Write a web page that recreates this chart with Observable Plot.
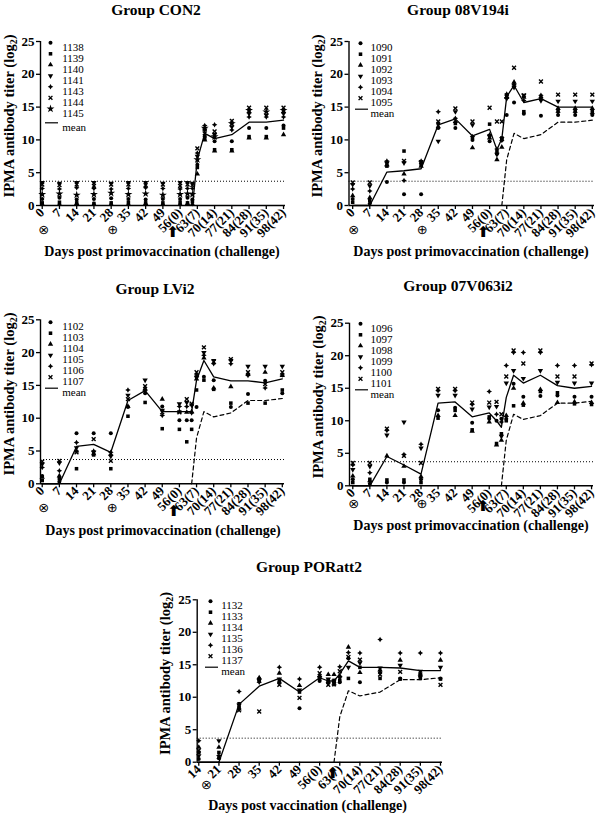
<!DOCTYPE html>
<html><head><meta charset="utf-8">
<script src="https://cdn.jsdelivr.net/npm/d3@7"></script>
<script src="https://cdn.jsdelivr.net/npm/@observablehq/plot@0.6"></script>
<style>
html,body{margin:0;padding:0;background:#fff;}
#page{position:relative;width:600px;height:819px;overflow:hidden;background:#fff;}
.panel{position:absolute;}
#overlay{position:absolute;left:0;top:0;pointer-events:none;}
</style></head><body><div id="page"></div>
<script>
// ---------- shared axes / reference data ----------
const daysA = [0,7,14,21,28,35,42,49,56,59,61,63,66,70,77,84,91,98];
const daysP = [14,21,28,35,42,49,56,59,61,63,66,70,77,84,91,98];
const ticksA = [0,7,14,21,28,35,42,49,56,63,70,77,84,91,98];
const tickLabelsA = ["0","7","14","21","28","35","42","49","56(0)","63(7)","70(14)","77(21)","84(28)","91(35)","98(42)"];
const ticksP = [14,21,28,35,42,49,56,63,70,77,84,91,98];
const tickLabelsP = ["14","21","28","35","42","49","56(0)","63(7)","70(14)","77(21)","84(28)","91(35)","98(42)"];
const yTicks = [0,5,10,15,20,25];
const detectionLimit = 3.7;
const conMeanDays = [61,63,66,70,77,84,91,98];
const conMean = [0,7.0,11.0,10.2,10.8,12.7,12.7,13.0];

// ---------- Group CON2 ----------
const con2Animals = ["1138","1139","1140","1141","1143","1144","1145"];
const con2_1138 = [1.0,1.2,0.9,1.0,1.1,1.0,0.9,1.0,1.0,1.2,0.9,6.2,10.5,9.8,9.8,11.8,11.8,12.2];
const con2_1139 = [0.4,0.5,0.4,0.3,0.4,0.5,0.4,0.4,0.5,0.4,0.6,5.8,10.2,8.5,8.5,10.5,10.5,11.8];
const con2_1140 = [0.2,0.2,0.3,0.2,0.2,0.2,0.3,0.2,0.2,0.3,0.2,4.8,10.0,8.3,8.3,10.3,10.3,10.8];
const con2_1141 = [3.5,3.4,3.5,3.5,3.4,3.5,3.5,3.4,3.5,3.5,3.4,7.5,11.5,10.8,12.0,14.0,13.8,14.0];
const con2_1143 = [2.6,2.5,2.7,2.6,2.5,2.6,2.7,2.6,2.5,2.6,2.6,8.0,12.2,12.3,11.5,13.5,13.5,13.5];
const con2_1144 = [3.2,3.1,3.2,3.0,3.2,3.2,3.1,3.2,3.0,3.2,3.1,8.7,11.0,11.3,12.9,14.9,14.9,14.9];
const con2_1145 = [1.7,1.8,1.6,1.7,1.9,1.7,1.8,1.6,1.7,1.8,1.7,7.0,11.8,10.5,12.5,14.5,14.3,14.5];

// ---------- Group 08V194i ----------
const g08Animals = ["1090","1091","1092","1093","1094","1095"];
const g08_1090 = [1.0,0.3,3.6,1.7,1.7,11.8,11.8,10.0,9.8,7.9,10.0,13.8,15.7,14.0,13.7,13.8,13.8,13.8];
const g08_1091 = [0.5,0.8,6.0,8.3,6.2,12.5,12.5,10.4,12.4,8.3,10.3,16.8,18.3,14.3,16.3,14.5,14.5,14.3];
const g08_1092 = [1.5,1.2,6.2,4.8,6.0,12.0,12.8,8.8,10.3,7.0,8.9,16.5,18.8,16.5,16.6,14.8,14.8,14.8];
const g08_1093 = [3.2,3.0,6.5,6.5,6.5,9.8,14.3,12.3,10.5,7.8,10.2,16.3,18.0,16.8,16.0,15.9,15.9,15.9];
const g08_1094 = [2.5,2.2,6.8,3.8,6.8,14.3,13.3,10.5,10.8,8.6,9.9,17.0,18.5,16.0,16.8,14.2,14.2,14.0];
const g08_1095 = [3.5,3.5,6.3,6.8,6.6,12.8,14.8,12.8,14.9,12.8,12.8,16.6,21.0,16.8,18.9,16.9,16.9,16.9];
const g08Mean = [0,0,5.1,5.3,5.6,12.3,13.2,10.6,11.6,8.5,10.2,16.6,18.3,15.7,16.3,15.0,15.0,15.0];

// ---------- Group LVi2 ----------
const lvAnimals = ["1102","1103","1104","1105","1106","1107"];
const lv_1102 = [1.2,0.3,7.7,7.7,7.7,11.7,13.8,11.8,9.7,9.7,9.7,11.7,16.3,15.8,11.7,13.7,15.7,13.8];
const lv_1103 = [0.5,0.8,2.3,4.4,2.3,10.3,12.4,8.4,8.3,6.4,8.3,14.3,15.8,14.4,12.3,12.3,12.3,14.3];
const lv_1104 = [1.0,1.2,5.0,4.6,4.5,11.8,14.5,12.9,11.0,10.9,11.0,16.0,19.2,14.6,14.8,16.8,17.0,16.5];
const lv_1105 = [3.0,3.2,5.5,4.8,4.2,13.5,15.8,11.2,12.2,12.4,12.0,16.2,20.0,18.8,18.8,17.9,17.9,17.9];
const lv_1106 = [2.5,2.0,6.3,5.0,4.8,14.3,14.2,10.4,11.8,11.8,10.8,16.6,19.6,18.3,18.3,16.5,14.6,16.6];
const lv_1107 = [3.4,3.5,4.8,6.8,3.5,12.9,14.9,10.9,10.9,12.9,12.2,17.0,20.8,18.6,19.0,17.0,15.2,17.0];
const lvMean = [0,0,5.7,6.0,4.8,12.7,14.2,11.0,11.0,11.0,11.0,15.8,18.8,16.3,15.7,15.7,15.4,16.0];

// ---------- Group 07V063i2 ----------
const g07Animals = ["1096","1097","1098","1099","1100","1101"];
const g07_1096 = [1.0,0.3,0.5,0.5,1.0,11.6,12.0,9.7,10.3,10.0,10.3,10.3,15.7,13.7,13.8,13.9,13.7,13.7];
const g07_1097 = [0.5,1.0,0.9,0.9,0.5,10.4,11.6,8.6,10.6,6.5,8.0,10.0,12.3,12.4,14.5,14.3,12.6,12.5];
const g07_1098 = [1.5,0.8,4.6,3.0,1.4,10.8,10.8,8.4,9.8,6.3,7.0,10.8,15.0,12.7,14.8,12.8,12.9,12.8];
const g07_1099 = [2.5,3.0,7.8,9.8,5.8,13.9,13.9,11.8,12.1,12.2,7.6,15.8,17.7,16.5,17.7,15.9,15.8,15.8];
const g07_1100 = [3.2,2.0,8.5,4.8,6.4,14.6,14.6,12.5,14.5,11.0,9.8,18.5,20.5,20.5,20.5,18.5,18.5,18.6];
const g07_1101 = [3.5,3.5,8.8,4.6,3.5,14.9,14.9,12.8,12.8,12.9,11.0,16.8,20.8,18.8,20.8,16.8,16.8,18.8];
const g07Mean = [0,0,4.5,3.2,1.8,12.7,12.9,10.6,11.2,10.0,9.0,13.6,17.0,15.8,17.0,15.4,15.0,15.3];

// ---------- Group PORatt2 ----------
const porAnimals = ["1132","1133","1134","1135","1136","1137"];
const por_1132 = [0.5,0.6,8.5,12.5,12.3,8.3,12.5,12.3,12.3,12.3,16.0,12.3,13.8,12.9,13.2,12.9];
const por_1133 = [1.5,1.5,9.0,12.8,12.5,10.8,12.8,12.6,12.6,12.6,12.9,14.6,12.9,12.8,12.9,12.8];
const por_1134 = [2.3,2.3,8.2,13.0,13.7,11.8,13.3,13.5,13.5,13.3,17.7,13.8,14.2,15.7,13.6,15.7];
const por_1135 = [1.0,3.3,8.8,12.6,12.8,11.1,13.0,12.8,12.5,13.0,14.6,15.3,14.5,14.9,14.0,14.6];
const por_1136 = [3.3,1.0,10.9,12.3,14.6,12.8,14.6,12.3,12.0,14.7,16.9,16.8,18.9,16.8,16.8,16.8];
const por_1137 = [1.8,0.8,8.0,7.8,11.9,9.9,13.7,11.9,12.0,14.0,16.2,15.8,13.5,13.9,13.5,11.9];
const porMean = [0,0,8.9,11.7,12.9,10.8,13.0,12.5,12.5,13.6,15.6,14.6,14.6,14.5,14.1,14.1];

// ---------- symbols ----------
const S3 = Math.sqrt(3);
const triDown = {draw(ctx, size){ const y = -Math.sqrt(size/(S3*3)); ctx.moveTo(0,-y*2); ctx.lineTo(-S3*y, y); ctx.lineTo(S3*y, y); ctx.closePath(); }};
const star4 = {draw(ctx, size){ const r = Math.sqrt(size)*0.6, i = r*0.36; ctx.moveTo(0,-r); ctx.lineTo(i,-i); ctx.lineTo(r,0); ctx.lineTo(i,i); ctx.lineTo(0,r); ctx.lineTo(-i,i); ctx.lineTo(-r,0); ctx.lineTo(-i,-i); ctx.closePath(); }};
const hline = {draw(ctx){ ctx.moveTo(-6.5,0); ctx.lineTo(6.5,0); }};
const symDefs = [
  {symbol:"circle", r:2.0, fill:"#000"},
  {symbol:"square", r:2.0, fill:"#000"},
  {symbol:"triangle", r:2.0, fill:"#000"},
  {symbol:triDown, r:2.0, fill:"#000"},
  {symbol:star4, r:2.6, fill:"#000"},
  {symbol:"times", r:1.9, fill:"none", stroke:"#000", strokeWidth:1.4},
  {symbol:"star", r:2.5, fill:"#000"}
];

const panels = [
  {left:0, top:0, w:300, h:270, mL:40, mR:15, mT:41, mB:65, xDomain:[-0.7,98.8],
   days:daysA, ticks:ticksA, tickLabels:tickLabelsA, names:con2Animals,
   series:[con2_1138,con2_1139,con2_1140,con2_1141,con2_1143,con2_1144,con2_1145],
   meanDays:conMeanDays, mean:conMean, dashed:false,
   leg:{mx:10, tx:21.7, dy:1.3, gap:3},
   circ:[{day:0,s:"⊗"},{day:28,s:"⊕"}], circDx:1.5, circDy:28, arrow:[{day:53,s:"⬆"}], arrowDy:31},
  {left:300, top:0, w:300, h:270, mL:48.5, mR:6, mT:41, mB:65, xDomain:[-1.5,98.9],
   days:daysA, ticks:ticksA, tickLabels:tickLabelsA, names:g08Animals,
   series:[g08_1090,g08_1091,g08_1092,g08_1093,g08_1094,g08_1095],
   meanDays:daysA, mean:g08Mean, dashed:true,
   leg:{mx:11.5, tx:21.5, dy:1.7, gap:0},
   circ:[{day:0,s:"⊗"},{day:28,s:"⊕"}], circDx:1, circDy:28, arrow:[{day:53.4,s:"⬆"}], arrowDy:31},
  {left:0, top:270, w:300, h:270, mL:40, mR:16, mT:49.3, mB:56.7, xDomain:[-0.7,98.9],
   days:daysA, ticks:ticksA, tickLabels:tickLabelsA, names:lvAnimals,
   series:[lv_1102,lv_1103,lv_1104,lv_1105,lv_1106,lv_1107],
   meanDays:daysA, mean:lvMean, dashed:true,
   leg:{mx:10, tx:21.7, dy:2.4, gap:0},
   circ:[{day:0,s:"⊗"},{day:28,s:"⊕"}], circDx:1.5, circDy:28.4, arrow:[{day:53.7,s:"⬆"}], arrowDy:31.7},
  {left:300, top:270, w:300, h:270, mL:49, mR:7, mT:52.7, mB:54.7, xDomain:[-1.35,98.8],
   days:daysA, ticks:ticksA, tickLabels:tickLabelsA, names:g07Animals,
   series:[g07_1096,g07_1097,g07_1098,g07_1099,g07_1100,g07_1101],
   meanDays:daysA, mean:g07Mean, dashed:true,
   leg:{mx:11, tx:21, dy:0.6, gap:0},
   circ:[{day:0,s:"⊗"},{day:28,s:"⊕"}], circDx:1, circDy:22, arrow:[{day:53.5,s:"⬆"}], arrowDy:25.4},
  {left:150, top:540, w:300, h:279, mL:46.7, mR:8, mT:59.3, mB:57.3, xDomain:[13.45,98.7],
   days:daysP, ticks:ticksP, tickLabels:tickLabelsP, names:porAnimals,
   series:[por_1132,por_1133,por_1134,por_1135,por_1136,por_1137],
   meanDays:daysP, mean:porMean, dashed:true,
   leg:{mx:13.3, tx:24, dy:1.4, gap:0},
   circ:[{day:14,s:"⊗"}], circDx:7.7, circDy:26.6, arrow:[{day:60.6,s:"⬆"}], arrowDy:15.3}
];

function drawPanel(p){
  const marks = [];
  marks.push(Plot.ruleY([detectionLimit], {stroke:"#000", strokeWidth:1, strokeDasharray:"1,2"}));
  if (p.dashed) marks.push(Plot.line(conMeanDays.map((d,i)=>({day:d, v:conMean[i]})), {x:"day", y:"v", stroke:"#000", strokeWidth:1.2, strokeDasharray:"4,3"}));
  marks.push(Plot.line(p.meanDays.map((d,i)=>({day:d, v:p.mean[i]})), {x:"day", y:"v", stroke:"#000", strokeWidth:1.3}));
  p.series.forEach((vals,k)=>{
    const data = p.days.map((d,i)=>({day:d, v:vals[i]})).filter(o=>o.v!=null);
    marks.push(Plot.dot(data, {x:"day", y:"v", ...symDefs[k]}));
  });
  marks.push(Plot.ruleY([0], {stroke:"#000", strokeWidth:1.4}));
  marks.push(Plot.ruleX([p.xDomain[0]], {y1:0, y2:25, stroke:"#000", strokeWidth:1.4}));
  marks.push(Plot.axisY({ticks:yTicks, tickSize:4, tickPadding:2, fontSize:13, fontWeight:"bold", strokeWidth:1.3, label:null}));
  const lm = new Map(p.ticks.map((t,i)=>[t,p.tickLabels[i]]));
  marks.push(Plot.axisX({ticks:p.ticks, tickFormat:d=>lm.get(d), tickRotate:-45, tickSize:4, tickPadding:1, fontSize:13, fontWeight:"bold", strokeWidth:1.3, label:null}));
  // legend
  p.names.forEach((name,k)=>{
    const dy = p.leg.dy + k*11;
    marks.push(Plot.dot([name], {frameAnchor:"top-left", dx:p.leg.mx, dy, ...symDefs[k]}));
    marks.push(Plot.text([name], {frameAnchor:"top-left", dx:p.leg.tx, dy, text:d=>d, textAnchor:"start", fontSize:11, fontWeight:"normal"}));
  });
  const mdy = p.leg.dy + p.names.length*11 + p.leg.gap;
  marks.push(Plot.dot(["mean"], {frameAnchor:"top-left", dx:p.leg.mx+1, dy:mdy, symbol:hline, r:3, stroke:"#000", strokeWidth:1.2, fill:"none"}));
  marks.push(Plot.text(["mean"], {frameAnchor:"top-left", dx:p.leg.tx, dy:mdy, text:d=>d, textAnchor:"start", fontSize:11, fontWeight:"normal"}));
  // vaccination / challenge markers
  marks.push(Plot.text(p.circ, {x:"day", text:"s", frameAnchor:"bottom", dx:p.circDx, dy:p.circDy, fontSize:13, fontWeight:"normal", fontFamily:"DejaVu Sans"}));
  marks.push(Plot.text(p.arrow, {x:"day", text:"s", frameAnchor:"bottom", dy:p.arrowDy, fontSize:15, fontWeight:"bold", fontFamily:"DejaVu Sans"}));
  return Plot.plot({
    width:p.w, height:p.h, marginLeft:p.mL, marginRight:p.mR, marginTop:p.mT, marginBottom:p.mB,
    x:{domain:p.xDomain}, y:{domain:[0,25]},
    style:{fontFamily:"'Liberation Serif', 'Times New Roman', serif", fontSize:"12px", color:"#000", background:"transparent", overflow:"visible"},
    marks
  });
}

const page = document.getElementById("page");
panels.forEach(p=>{
  const div = document.createElement("div");
  div.className = "panel";
  div.style.left = p.left+"px"; div.style.top = p.top+"px";
  div.appendChild(drawPanel(p));
  page.appendChild(div);
});

// ---------- titles & axis labels ----------
const titles = [
  {t:"Group CON2", x:156, y:15},
  {t:"Group 08V194i", x:458, y:15},
  {t:"Group LVi2", x:155, y:294},
  {t:"Group 07V063i2", x:458, y:291},
  {t:"Group PORatt2", x:309, y:572}
];
const yLabels = [{x:13.5, y:116},{x:322, y:116},{x:13.5, y:394},{x:322.5, y:397},{x:170, y:673.5}];
const xLabels = [
  {t:"Days post primovaccination (challenge)", x:162, y:256},
  {t:"Days post primovaccination (challenge)", x:471, y:256},
  {t:"Days post primovaccination (challenge)", x:163, y:534.5},
  {t:"Days post primovaccination (challenge)", x:471, y:529.5},
  {t:"Days post vaccination (challenge)", x:307.5, y:809.5}
];
const svg = d3.select(page).append("svg").attr("id","overlay").attr("width",600).attr("height",819)
  .style("font-family","'Liberation Serif','Times New Roman',serif").style("font-weight","bold").attr("fill","#000");
svg.selectAll("text.title").data(titles).join("text").attr("class","title")
  .attr("x",d=>d.x).attr("y",d=>d.y).attr("text-anchor","middle").attr("font-size",15.5).text(d=>d.t);
svg.selectAll("text.xl").data(xLabels).join("text").attr("class","xl")
  .attr("x",d=>d.x).attr("y",d=>d.y).attr("text-anchor","middle").attr("font-size",14).text(d=>d.t);
yLabels.forEach(d=>{
  const t = svg.append("text").attr("transform",`translate(${d.x},${d.y}) rotate(-90)`).attr("text-anchor","middle").attr("font-size",14.5);
  t.append("tspan").text("IPMA antibody titer (log");
  t.append("tspan").attr("dy",3).attr("font-size",10).text("2");
  t.append("tspan").attr("dy",-3).text(")");
});
</script></body></html>
